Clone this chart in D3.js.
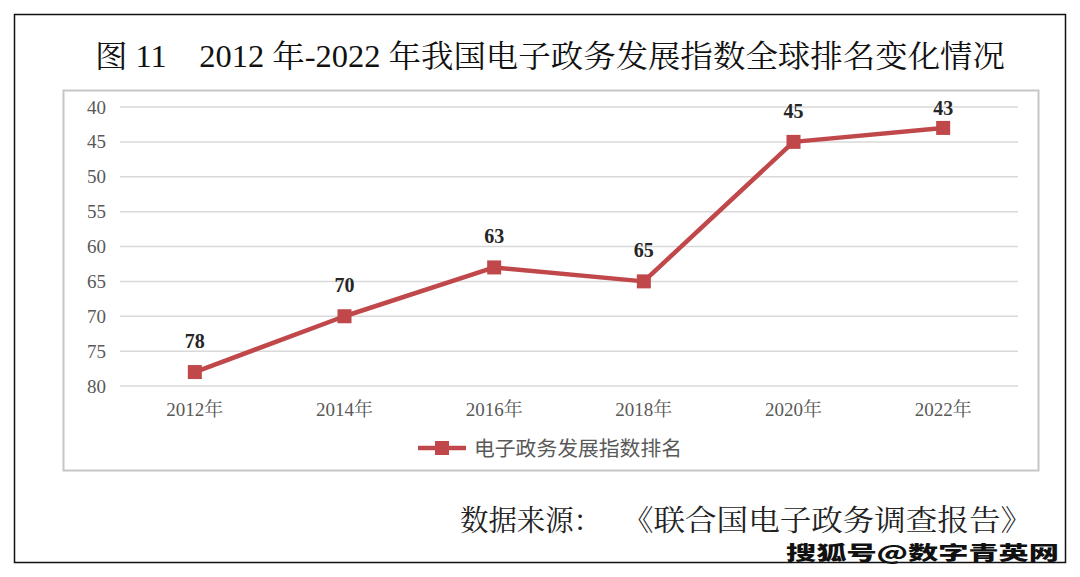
<!DOCTYPE html>
<html><head><meta charset="utf-8">
<script src="https://cdn.jsdelivr.net/npm/d3@7"></script>
<style>
html,body{margin:0;padding:0;background:#fff;}
svg{display:block;}
</style>
</head><body>
<svg id="c" width="1080" height="577"></svg>
<script>
const categories = ["2012年","2014年","2016年","2018年","2020年","2022年"];
const rankValues = [78, 70, 63, 65, 45, 43];
const yTicks = [40, 45, 50, 55, 60, 65, 70, 75, 80];
const seriesName = "电子政务发展指数排名";
const titleText = "图 11\u00a0\u00a0\u00a0 2012 年-2022 年我国电子政务发展指数全球排名变化情况";
const sourceLabel = "数据来源：";
const sourceTitle = "《联合国电子政务调查报告》";
const watermark = "搜狐号@数字青英网";

const svg = d3.select("#c");
const serif = "'Liberation Serif','Times New Roman','Noto Serif CJK SC','Noto Sans CJK SC',serif";
const cjkSerif = "'Noto Serif CJK SC','Noto Sans CJK SC',serif";
const red = "#c0474a";

// outer frame
svg.append("rect").attr("x",14.5).attr("y",14.5).attr("width",1051).attr("height",548)
  .attr("fill","#fff").attr("stroke","#111").attr("stroke-width",1.5);

// title
svg.append("text").attr("x",95).attr("y",67)
  .attr("font-family",serif).attr("font-size",31).attr("fill","#111")
  .attr("textLength",910).attr("lengthAdjust","spacingAndGlyphs")
  .text(titleText);

// chart frame
svg.append("rect").attr("x",63.5).attr("y",90.5).attr("width",975).attr("height",380)
  .attr("fill","#fff").attr("stroke","#c6c6c6").attr("stroke-width",2);

const x = d3.scaleBand().domain(categories).range([120, 1018]);
const y = d3.scaleLinear().domain([40, 80]).range([107, 386]);

// gridlines
svg.append("g").selectAll("line").data(yTicks).join("line")
  .attr("x1",120).attr("x2",1018)
  .attr("y1",d=>y(d)).attr("y2",d=>y(d))
  .attr("stroke","#d9d9d9").attr("stroke-width",1.5);

// y axis labels
const yAxis = d3.axisLeft(y).tickValues(yTicks).tickSize(0).tickPadding(0);
const gy = svg.append("g").attr("transform","translate(106,0)").call(yAxis);
gy.select(".domain").remove();
gy.selectAll("text").attr("font-family",serif).attr("font-size",19).attr("fill","#595959");

// x axis labels
const xAxis = d3.axisBottom(x).tickSize(0).tickPadding(0);
const gx = svg.append("g").attr("transform","translate(0,402)").call(xAxis);
gx.select(".domain").remove();
gx.selectAll("text").attr("font-family",serif).attr("font-size",19).attr("fill","#595959");

const cx = c => x(c) + x.bandwidth()/2;
const data = categories.map((c,i)=>({c, v: rankValues[i]}));

// line
svg.append("path").datum(data)
  .attr("d", d3.line().x(d=>cx(d.c)).y(d=>y(d.v)))
  .attr("fill","none").attr("stroke",red).attr("stroke-width",4.5).attr("stroke-linejoin","round");

// markers
svg.append("g").selectAll("rect").data(data).join("rect")
  .attr("x",d=>cx(d.c)-7).attr("y",d=>y(d.v)-7).attr("width",14).attr("height",14)
  .attr("fill",red);

// data labels
svg.append("g").selectAll("text").data(data).join("text")
  .attr("x",d=>cx(d.c)).attr("y",d=>Math.max(y(d.v)-31, y(40)+1)+7)
  .attr("text-anchor","middle").attr("font-family",serif).attr("font-weight","bold")
  .attr("font-size",20).attr("fill","#262626").text(d=>d.v);

// legend
const lg = svg.append("g");
lg.append("line").attr("x1",418).attr("x2",466).attr("y1",448).attr("y2",448)
  .attr("stroke",red).attr("stroke-width",4.5);
lg.append("rect").attr("x",435).attr("y",441).attr("width",14).attr("height",14).attr("fill",red);
lg.append("text").attr("x",474).attr("y",455.5)
  .attr("font-family","'Noto Sans CJK SC',sans-serif").attr("font-size",20).attr("fill","#595959")
  .attr("textLength",208).attr("lengthAdjust","spacingAndGlyphs")
  .text(seriesName);

// source
svg.append("text").attr("x",460).attr("y",531)
  .attr("font-family",cjkSerif).attr("font-size",29).attr("fill","#222")
  .attr("textLength",142).attr("lengthAdjust","spacingAndGlyphs").text(sourceLabel);
svg.append("text").attr("x",622).attr("y",531)
  .attr("font-family",cjkSerif).attr("font-size",29).attr("fill","#222")
  .attr("textLength",410).attr("lengthAdjust","spacingAndGlyphs").text(sourceTitle);

// watermark
svg.append("text").attr("x",786).attr("y",560)
  .attr("font-family","'Noto Sans CJK SC',sans-serif").attr("font-weight","900").attr("font-size",19)
  .attr("fill","#111").attr("textLength",273).attr("lengthAdjust","spacingAndGlyphs")
  .text(watermark);
</script>
</body></html>
